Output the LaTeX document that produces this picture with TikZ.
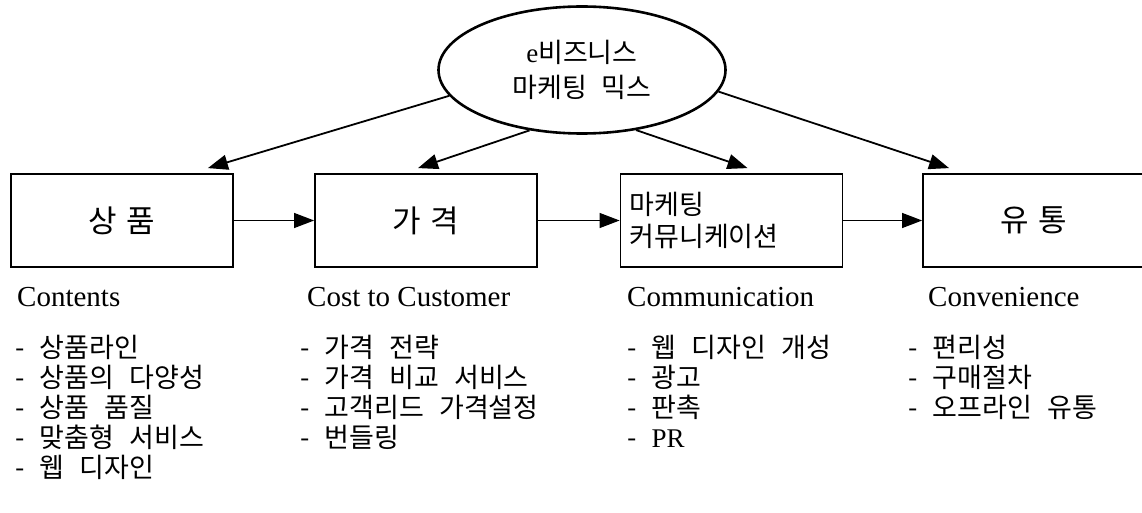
\documentclass[tikz,border=0pt]{standalone}
\usepackage{fontspec}
\setmainfont{Liberation Serif}
\newfontfamily\kr[WordSpace=2.5]{Noto Sans CJK KR}
\usetikzlibrary{shapes.geometric,arrows.meta}

\begin{document}
\begin{tikzpicture}[x=1pt,y=-1pt,
box/.style={draw, line width=1.8pt, minimum width=222pt, minimum height=93pt, font=\kr\fontsize{31}{36}\selectfont},
lbl/.style={anchor=base west, inner sep=0pt, font=\fontsize{29}{34}\selectfont},
lst/.style={anchor=base west, inner sep=0pt, align=left, font=\kr\fontsize{27}{30}\selectfont},
tip/.style={-{Triangle[length=20pt,width=15pt]}}]
\useasboundingbox (0,0) rectangle (1142,513);
%top
\draw (582,70) node[ellipse, draw, line width=2.6pt, minimum width=287pt, minimum height=127pt, inner sep=0pt, align=center, font=\kr\fontsize{27}{35}\selectfont] (mix) {{\rmfamily e}비즈니스\\마케팅 믹스};
%boxes
\draw (122,220.5) node[box] (goods) {상\hspace{.3em}품}
(426,220.5) node[box] (price) {가\hspace{.3em}격}
(731.5,220.5) node[box, align=left, text width=204pt, font=\kr\fontsize{27}{32}\selectfont] (promo) {마케팅\\커뮤니케이션}
(1034,220.5) node[box] (place) {유\hspace{.3em}통};
\draw [tip, line width=1.2pt] (goods) -- (price);
\draw [tip, line width=1.2pt] (price) -- (promo);
\draw [tip, line width=1.2pt] (promo) -- (place);
%from the mix
\coordinate (t1) at ([xshift=-26pt,yshift=5pt]goods.north east);
\coordinate (t2) at ([xshift=-8pt,yshift=5pt]price.north);
\coordinate (t3) at ([xshift=16pt,yshift=5pt]promo.north);
\coordinate (t4) at ([xshift=27pt,yshift=5pt]place.north west);
\draw [tip, line width=1.8pt] (mix.191) -- (t1);
\draw [tip, line width=1.8pt] (mix.229) -- (t2);
\draw [tip, line width=1.8pt] (mix.312) -- (t3);
\draw [tip, line width=1.8pt] (mix.351) -- (t4);
%4C
\draw (17,306) node[lbl] (c1) {Contents}
(307,306) node[lbl] (c2) {Cost to Customer}
(627,306) node[lbl] (c3) {Communication}
(928,306) node[lbl] (c4) {Convenience};
%lists (placed at the last line)
\draw (15,477) node[lst] (l1) {- 상품라인\\- 상품의 다양성\\- 상품 품질\\- 맞춤형 서비스\\- 웹 디자인}
(300,447) node[lst] (l2) {- 가격 전략\\- 가격 비교 서비스\\- 고객리드 가격설정\\- 번들링}
(627,447) node[lst] (l3) {- 웹 디자인 개성\\- 광고\\- 판촉\\- {\rmfamily PR}}
(908,417) node[lst] (l4) {- 편리성\\- 구매절차\\- 오프라인 유통};
\end{tikzpicture}
\end{document}
